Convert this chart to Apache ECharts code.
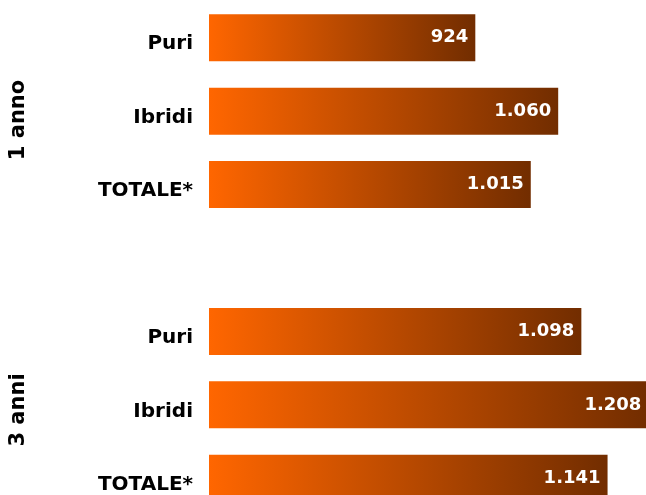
<!DOCTYPE html>
<html>
<head>
<meta charset="utf-8">
<script src="https://cdn.jsdelivr.net/npm/echarts@6/dist/echarts.min.js"></script>
<style>
  html, body { margin: 0; padding: 0; background: #fff; }
  #chart { width: 646px; height: 495px; }
</style>
</head>
<body>
<div id="chart"></div>
<script>
// categories top to bottom, empty slot separates the two groups
const categories = ['Puri', 'Ibridi', 'TOTALE*', '', 'Puri', 'Ibridi', 'TOTALE*']
const values = [924, 1060, 1015, '-', 1098, 1208, 1141]
const groups = ['1 anno', '3 anni']

const font = 'DejaVu Sans, Verdana, sans-serif'
const chart = echarts.init(document.getElementById('chart'))

const fmt = (v) => String(v).replace(/\B(?=(\d{3})+(?!\d))/g, '.')

chart.setOption({
    animation: false,
    grid: {
        left: 209,
        top: 1,
        width: 440,
        height: 514,
        outerBoundsMode: 'none',
        containLabel: false
    },
    xAxis: {
        type: 'value',
        min: 487,
        max: 1209,
        show: false
    },
    yAxis: {
        type: 'category',
        inverse: true,
        data: categories,
        axisLine: { show: false },
        axisTick: { show: false },
        splitLine: { show: false },
        axisLabel: {
            margin: 16,
            verticalAlign: 'top',
            lineHeight: 13,
            color: '#000',
            fontFamily: font,
            fontWeight: 'bold',
            fontSize: 20
        }
    },
    graphic: groups.map((g, i) => ({
        type: 'text',
        x: 19,
        y: [120, 410][i],
        rotation: Math.PI / 2,
        style: {
            text: g,
            fill: '#000',
            font: 'bold 21px ' + font,
            align: 'center',
            verticalAlign: 'middle'
        }
    })),
    series: [
        {
            type: 'bar',
            data: values,
            barWidth: 47,
            itemStyle: {
                color: new echarts.graphic.LinearGradient(0, 0, 1, 0, [
                    { offset: 0, color: '#ff6600' },
                    { offset: 1, color: '#722d00' }
                ])
            },
            label: {
                show: true,
                position: 'insideRight',
                distance: 7,
                color: '#fff',
                fontFamily: font,
                fontWeight: 'bold',
                fontSize: 18,
                formatter: (p) => fmt(p.value)
            }
        }
    ]
})
</script>
</body>
</html>
